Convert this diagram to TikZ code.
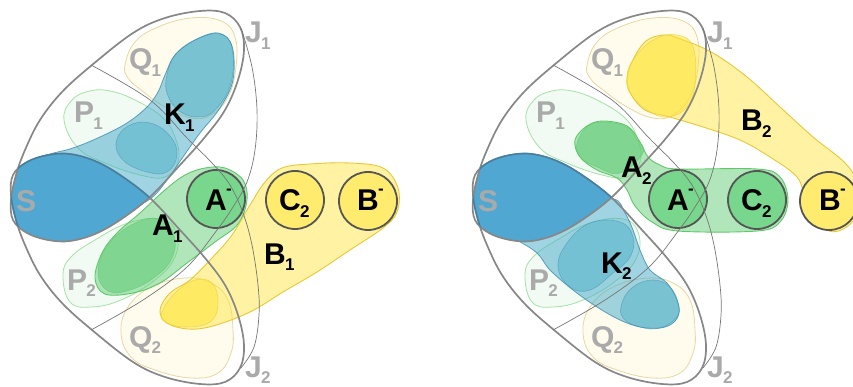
\documentclass[tikz,border=0pt]{standalone}
\usepackage{fontspec}
\setmainfont{Liberation Sans}
\definecolor{lblgray}{RGB}{170,170,170}
\definecolor{framegray}{RGB}{135,135,135}
\definecolor{thingray}{RGB}{118,118,118}
\definecolor{circline}{RGB}{85,85,85}
\definecolor{sfillc}{RGB}{80,168,210}
\definecolor{sedgec}{RGB}{62,128,168}
\definecolor{kbase}{RGB}{65,170,200}
\definecolor{kline}{RGB}{60,140,175}
\definecolor{gbase}{RGB}{100,205,120}
\definecolor{gline}{RGB}{95,200,105}
\definecolor{ybase}{RGB}{255,228,50}
\definecolor{yline}{RGB}{232,200,55}
\definecolor{gcirc}{RGB}{120,215,140}
\definecolor{ycirc}{RGB}{255,236,110}
\definecolor{pfill}{RGB}{241,250,243}
\definecolor{pline}{RGB}{165,226,165}
\definecolor{qfill}{RGB}{255,252,237}
\definecolor{qline}{RGB}{233,215,160}
\newcommand{\biglab}{\fontsize{30}{30}\selectfont\bfseries}
\newcommand{\lsub}[1]{\kern-0.8pt\raisebox{-6.5pt}{\fontsize{17}{17}\selectfont #1}}
\newcommand{\lsup}{\kern-0.8pt\raisebox{16.5pt}{\fontsize{17}{17}\selectfont -}}
\newcommand{\JoneP}{plot[smooth cycle,tension=0.6] coordinates {(13,220) (11,200) (16,175) (25,150) (40,120) (62,92) (92,65) (133,33) (165,18) (200,11) (225,13) (240,27) (244,50) (238,80) (225,110) (205,137) (180,165) (150,197) (120,220) (95,234) (70,241) (48,240) (27,233)}}
\newcommand{\JtwoP}{plot[smooth cycle,tension=0.6] coordinates {(13,175) (11,195) (16,220) (25,245) (40,275) (62,303) (92,330) (133,362) (165,377) (200,384) (225,382) (240,368) (244,345) (238,315) (225,285) (205,258) (180,230) (150,198) (120,175) (95,161) (70,154) (48,155) (27,162)}}
\tikzset{
  framel/.style={draw=framegray, line width=1.7pt},
  thinl/.style={draw=thingray, line width=0.7pt},
  pzone/.style={fill=pfill, draw=pline, line width=0.8pt},
  qzone/.style={fill=qfill, draw=qline, line width=0.8pt},
  kband/.style={fill=kbase, fill opacity=0.5, draw=kline, draw opacity=0.8, line width=0.8pt},
  kblob/.style={fill=kbase, fill opacity=0.4, draw=kline, draw opacity=0.5, line width=0.6pt},
  gband/.style={fill=gbase, fill opacity=0.5, draw=gline, line width=0.9pt},
  gblob/.style={fill=gbase, fill opacity=0.6, draw=gline, draw opacity=0.6, line width=0.6pt},
  yband/.style={fill=ybase, fill opacity=0.45, draw=yline, line width=0.9pt},
  yblob/.style={fill=ybase, fill opacity=0.5, draw=yline, draw opacity=0.6, line width=0.6pt},
  circ/.style={circle, minimum size=58pt, inner sep=0pt, line width=1.8pt, draw=circline},
  glab/.style={text=lblgray, font=\biglab, anchor=base west, inner sep=0pt},
  blab/.style={text=black, font=\biglab, anchor=base west, inner sep=0pt},
}
\newcommand{\PQzones}{%
  \draw[pzone] plot[smooth cycle,tension=0.7] coordinates {(64,120) (72,100) (90,91) (110,91) (135,100) (163,118) (176,140) (178,162) (165,177) (140,175) (105,163) (78,148)};
  \draw[qzone] plot[smooth cycle,tension=0.7] coordinates {(125,65) (135,42) (158,27) (191,18) (221,21) (235,37) (236,67) (228,97) (211,115) (191,118) (165,107) (141,90) (128,78)};
  \draw[pzone] plot[smooth cycle,tension=0.7] coordinates {(63,275) (71,257) (95,240) (128,223) (161,219) (176,232) (175,257) (155,280) (121,300) (91,307) (70,302)};
  \draw[qzone] plot[smooth cycle,tension=0.7] coordinates {(121,333) (128,307) (151,287) (185,278) (211,283) (228,300) (233,330) (231,353) (218,373) (191,378) (155,370) (131,357)};
}
\newcommand{\Sfill}{%
  \begin{scope}
    \clip \JoneP;
    \fill[sfillc] \JtwoP;
  \end{scope}
}
\newcommand{\Frame}[1]{%
  \draw[framel] \JoneP;
  \draw[framel] \JtwoP;
  \draw[thinl] plot[smooth,tension=0.6] coordinates {(91,65) (150,100) (187,138) (212,163) (230,185) (243,213) (252,245) (258,285) (259,315) (254,347) (241,368)};
  \draw[thinl] plot[smooth,tension=0.6] coordinates {(241,28) (252,67) (257,110) (255,150) (247,182) (233,207) (217,230) (187,267) (143,300) (91,330)};
  \begin{scope}
    \clip \JoneP;
    \draw[draw=sedgec, line width=1.4pt] \JtwoP;
  \end{scope}
  \node[glab] (s#1) at (16,212) {S};
  \node[glab] (p1#1) at (74,123) {P\lsub{1}};
  \node[glab] (q1#1) at (129,70) {Q\lsub{1}};
  \node[glab] (p2#1) at (67,290) {P\lsub{2}};
  \node[glab] (q2#1) at (129,347) {Q\lsub{2}};
  \node[glab] (j1#1) at (245,43) {J\lsub{1}};
  \node[glab] (j2#1) at (245,377) {J\lsub{2}};
}
\begin{document}
\begin{tikzpicture}[x=1pt,y=-1pt]
\useasboundingbox (0,0) rectangle (853,387);
% ---------------- left diagram ----------------
\begin{scope}
  \PQzones
  \draw[kband] plot[smooth cycle,tension=0.6] coordinates {(18,178) (35,160) (50,154) (73,148) (100,137) (127,123) (147,107) (158,92) (165,75) (175,55) (195,40) (218,33) (232,46) (233,80) (220,108) (200,133) (183,157) (167,180) (150,199) (120,212) (70,215) (30,205)};
  \draw[kblob] plot[smooth cycle,tension=0.7] coordinates {(116,143) (128,126) (150,123) (170,136) (177,155) (167,172) (147,172) (124,161)};
  \draw[kblob] plot[smooth cycle,tension=0.7] coordinates {(167,75) (175,55) (195,40) (220,34) (232,48) (231,83) (215,110) (197,117) (178,110) (167,93)};
  \Sfill
  \draw[gband] plot[smooth cycle,tension=0.6] coordinates {(205,168) (225,168) (243,180) (247,200) (238,224) (215,242) (187,263) (160,283) (133,293) (105,294) (95,278) (102,253) (117,233) (140,213) (165,190) (185,175)};
  \draw[gblob] plot[smooth cycle,tension=0.7] coordinates {(98,272) (108,245) (133,224) (160,219) (174,235) (172,258) (155,277) (130,290) (108,291)};
  \draw[yband] plot[smooth cycle,tension=0.6] coordinates {(160,310) (170,293) (190,280) (212,258) (232,235) (250,205) (265,182) (282,168) (310,164) (350,163) (383,168) (398,188) (397,212) (383,228) (350,250) (317,272) (283,292) (250,312) (213,326) (188,329) (167,323)};
  \draw[yblob] plot[smooth cycle,tension=0.7] coordinates {(162,312) (175,293) (195,280) (212,283) (218,303) (210,322) (185,327) (165,322)};
  \node[circ, fill=gcirc] (amL) at (216,199) {};
  \node[circ, fill=ycirc] (c2L) at (295,200) {};
  \node[circ, fill=ycirc] (bmL) at (368,201) {};
  \Frame{L}
  \node[blab] (k1L) at (164,125) {K\lsub{1}};
  \node[blab] (a1L) at (152,236) {A\lsub{1}};
  \node[blab] (b1L) at (264,264) {B\lsub{1}};
  \node[blab] (amlL) at (205,211) {A\lsup};
  \node[blab] (c2lL) at (279,211) {C\lsub{2}};
  \node[blab] (bmlL) at (357,211) {B\lsup};
\end{scope}
% ---------------- right diagram ----------------
\begin{scope}[shift={(462,0)}]
  \PQzones
  \draw[kband] plot[smooth cycle,tension=0.6] coordinates {(151,199) (163,213) (171,230) (178,250) (188,270) (205,283) (215,300) (217,313) (211,323) (198,328) (178,327) (158,320) (135,307) (111,290) (88,270) (75,253) (55,240) (30,225) (60,212) (110,205)};
  \draw[kblob] plot[smooth cycle,tension=0.7] coordinates {(96,267) (105,243) (128,223) (158,222) (171,237) (168,257) (151,273) (128,290) (108,287)};
  \draw[kblob] plot[smooth cycle,tension=0.7] coordinates {(160,303) (171,287) (191,280) (208,287) (216,303) (215,317) (198,328) (178,327) (161,318)};
  \Sfill
  \draw[yband] plot[smooth cycle,tension=0.6] coordinates {(165,80) (180,45) (201,35) (221,40) (251,53) (285,77) (318,107) (351,137) (385,165) (397,190) (392,220) (367,231) (345,200) (335,177) (308,157) (278,140) (241,127) (208,117) (180,108)};
  \draw[yblob] plot[smooth cycle,tension=0.7] coordinates {(165,77) (171,60) (191,40) (215,35) (231,47) (233,83) (225,107) (205,117) (185,110) (168,93)};
  \draw[gband] plot[smooth cycle,tension=0.6] coordinates {(118,157) (113,140) (125,126) (141,121) (165,126) (178,142) (186,157) (198,165) (216,169) (295,169) (318,177) (326,200) (318,222) (295,231) (216,231) (190,222) (173,206) (165,190) (155,178) (135,170)};
  \draw[gblob] plot[smooth cycle,tension=0.7] coordinates {(115,143) (125,127) (141,122) (165,127) (175,140) (181,153) (158,173) (135,167) (118,157)};
  \node[circ, fill=gcirc] (amR) at (216,199) {};
  \node[circ, fill=gcirc] (c2R) at (295,200) {};
  \node[circ, fill=ycirc] (bmR) at (367,201) {};
  \Frame{R}
  \node[blab] (a2R) at (159,178) {A\lsub{2}};
  \node[blab] (b2R) at (279,131) {B\lsub{2}};
  \node[blab] (k2R) at (139,273) {K\lsub{2}};
  \node[blab] (amlR) at (205,211) {A\lsup};
  \node[blab] (c2lR) at (279,211) {C\lsub{2}};
  \node[blab] (bmlR) at (357,211) {B\lsup};
\end{scope}
\end{tikzpicture}
\end{document}
